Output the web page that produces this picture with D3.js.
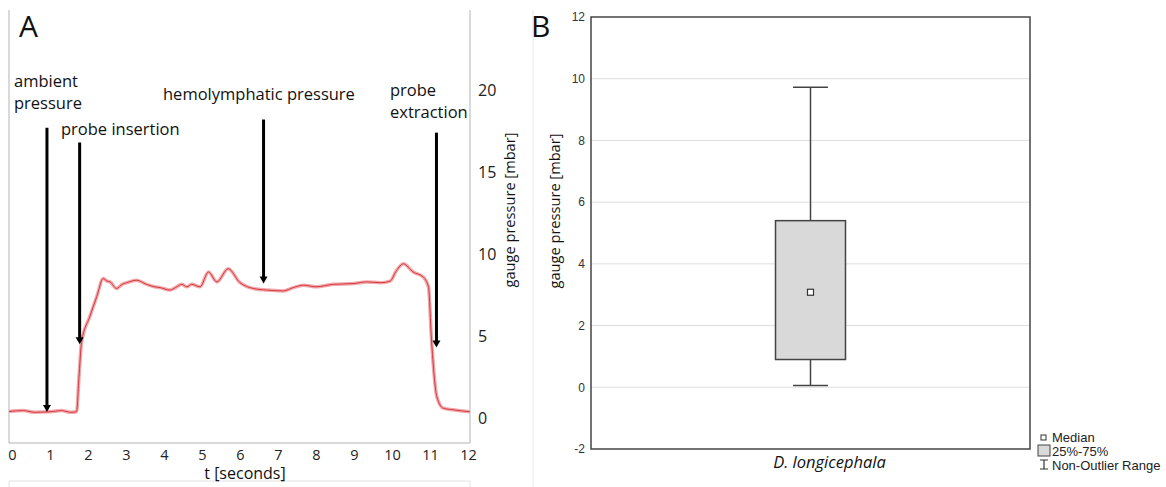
<!DOCTYPE html>
<html>
<head>
<meta charset="utf-8">
<script src="https://cdn.jsdelivr.net/npm/d3@7"></script>
<style>
  body { margin: 0; background: #fff; }
  svg { display: block; }
  .serif-ish { font-family: "Open Sans", "Noto Sans", sans-serif; }
</style>
</head>
<body>
<div id="canvas"></div>
<script>
// ---- panel A: pressure trace ----
var traceTime = [-0.08, 0.3, 0.6, 1.0, 1.3, 1.55, 1.70, 1.76, 1.83, 2.05, 2.23, 2.4, 2.5, 2.58, 2.75, 2.9, 3.02, 3.28, 3.54, 3.75, 3.9, 4.16, 4.3, 4.47, 4.6, 4.73, 4.95, 5.17, 5.39, 5.69, 6.0, 6.2, 6.35, 6.7, 7.14, 7.4, 7.67, 8.0, 8.46, 9.0, 9.33, 9.7, 9.95, 10.12, 10.3, 10.56, 10.82, 10.96, 11.04, 11.18, 11.35, 11.61, 12.05];
var tracePressure = [0.4, 0.45, 0.35, 0.38, 0.45, 0.35, 0.38, 2.4, 4.6, 6.2, 7.4, 8.5, 8.35, 8.3, 7.9, 8.15, 8.25, 8.4, 8.15, 8.0, 7.95, 7.8, 7.95, 8.15, 8.0, 8.15, 8.0, 8.9, 8.3, 9.1, 8.25, 8.0, 7.9, 7.8, 7.75, 7.95, 8.1, 8.0, 8.15, 8.2, 8.3, 8.25, 8.35, 9.0, 9.4, 8.9, 8.6, 8.0, 4.75, 1.3, 0.6, 0.5, 0.38];

var timeTicks = [0, 1, 2, 3, 4, 5, 6, 7, 8, 9, 10, 11, 12];
var pressureTicksA = [0, 5, 10, 15, 20];

// arrows: time, top value, tip value, label lines
var arrowTime = [0.92, 1.78, 6.62, 11.17];
var arrowTop = [17.7, 16.8, 18.2, 17.4];
var arrowTip = [0.37, 4.5, 8.2, 4.3];
var arrowLabels = [["ambient", "pressure"], ["probe insertion"], ["hemolymphatic pressure"], ["probe", "extraction"]];

// ---- panel B: box plot ----
var boxCategory = ["D. longicephala"];
var boxMedian = [3.08];
var boxQ1 = [0.9];
var boxQ3 = [5.4];
var boxMin = [0.06];
var boxMax = [9.72];
var pressureTicksB = [-2, 0, 2, 4, 6, 8, 10, 12];
var legendLabels = ["Median", "25%-75%", "Non-Outlier Range"];

var svg = d3.select("#canvas").append("svg").attr("width", 1166).attr("height", 487);

drawPanelA();
drawPanelB();

function drawPanelA() {
  var x = d3.scaleLinear().domain([0, 12]).range([12, 468]);
  var y = d3.scaleLinear().domain([0, 20]).range([418, 90]);
  var g = svg.append("g");

  // frame
  g.append("path")
    .attr("d", "M9,10 V443 H470 V10")
    .attr("fill", "none").attr("stroke", "#b3b3b3").attr("stroke-width", 1);
  g.append("path")
    .attr("d", "M9,487 V481 H470 V487")
    .attr("fill", "none").attr("stroke", "#e2e2e2").attr("stroke-width", 1);

  // trace
  var pts = traceTime.map((t, i) => [t, tracePressure[i]]);
  var line = d3.line().x(d => x(d[0])).y(d => y(d[1])).curve(d3.curveMonotoneX);
  g.append("path").datum(pts).attr("d", line)
    .attr("fill", "none").attr("stroke", "#f0a9ab").attr("stroke-width", 3.5).attr("stroke-linejoin", "round");
  g.append("path").datum(pts).attr("d", line)
    .attr("fill", "none").attr("stroke", "#d8383f").attr("stroke-width", 1);

  // arrows
  arrowTime.forEach((t, i) => {
    var ax = x(t), y0 = y(arrowTop[i]), y1 = y(arrowTip[i]);
    g.append("line").attr("x1", ax).attr("x2", ax).attr("y1", y0).attr("y2", y1 - 6)
      .attr("stroke", "#000").attr("stroke-width", 3);
    g.append("path").attr("d", `M${ax - 4},${y1 - 7} L${ax + 4},${y1 - 7} L${ax},${y1} Z`).attr("fill", "#000");
  });

  // arrow labels (left x, first baseline)
  var labelPos = [[14, 87], [61, 135], [163, 100], [390, 96]];
  arrowLabels.forEach((lines, i) => {
    var t = g.append("text").attr("class", "serif-ish").attr("font-size", 16.5).attr("fill", "#111");
    lines.forEach((s, j) => {
      t.append("tspan").attr("x", labelPos[i][0]).attr("y", labelPos[i][1] + j * 22).text(s);
    });
  });

  // axes
  var xAxis = g.append("g").attr("transform", "translate(0,443)")
    .call(d3.axisBottom(x).tickValues(timeTicks).tickSize(0).tickPadding(7));
  xAxis.select(".domain").remove();
  xAxis.selectAll("text").attr("class", "serif-ish").attr("font-size", 14.5).attr("fill", "#222");

  var yAxis = g.append("g").attr("transform", "translate(470,0)")
    .call(d3.axisRight(y).tickValues(pressureTicksA).tickSize(0).tickPadding(8));
  yAxis.select(".domain").remove();
  yAxis.selectAll("text").attr("class", "serif-ish").attr("font-size", 16).attr("fill", "#222");

  g.append("text").attr("class", "serif-ish").attr("font-size", 16).attr("fill", "#111")
    .attr("text-anchor", "middle").attr("x", 245).attr("y", 479).text("t [seconds]");
  g.append("text").attr("class", "serif-ish").attr("font-size", 14.6).attr("fill", "#111")
    .attr("text-anchor", "middle").attr("transform", "translate(515,210) rotate(-90)").text("gauge pressure [mbar]");

  g.append("text").attr("class", "serif-ish").attr("font-size", 30).attr("fill", "#111")
    .attr("x", 19).attr("y", 37).text("A");
}

function drawPanelB() {
  var left = 591, right = 1030, top = 17, bottom = 449;
  var y = d3.scaleLinear().domain([-2, 12]).range([bottom, top]);
  var x = d3.scaleBand().domain(boxCategory).range([left, right]).padding(0.725);
  var g = svg.append("g");

  // separator
  g.append("line").attr("x1", 533).attr("x2", 533).attr("y1", 10).attr("y2", 487)
    .attr("stroke", "#e8e8e8").attr("stroke-width", 1);

  g.append("text").attr("class", "serif-ish").attr("font-size", 30).attr("fill", "#111")
    .attr("x", 531).attr("y", 37).text("B");

  // grid
  g.selectAll("line.grid").data(pressureTicksB.filter(v => v > -2 && v < 12)).enter()
    .append("line").attr("class", "grid")
    .attr("x1", left).attr("x2", right).attr("y1", d => y(d)).attr("y2", d => y(d))
    .attr("stroke", "#dedede").attr("stroke-width", 1);

  // axis labels
  var yAxis = g.append("g").attr("transform", `translate(${left},0)`)
    .call(d3.axisLeft(y).tickValues(pressureTicksB).tickFormat(d => String(d)).tickSize(0).tickPadding(6));
  yAxis.select(".domain").remove();
  yAxis.selectAll("text").attr("font-family", "Liberation Sans, Arial, sans-serif")
    .attr("font-size", 12).attr("fill", "#333");

  // box plot
  boxCategory.forEach((c, i) => {
    var cx = x(c) + x.bandwidth() / 2;
    var bw = x.bandwidth();
    g.append("line").attr("x1", cx).attr("x2", cx).attr("y1", y(boxMax[i])).attr("y2", y(boxQ3[i]))
      .attr("stroke", "#444").attr("stroke-width", 1.5);
    g.append("line").attr("x1", cx).attr("x2", cx).attr("y1", y(boxQ1[i])).attr("y2", y(boxMin[i]))
      .attr("stroke", "#444").attr("stroke-width", 1.5);
    [boxMax[i], boxMin[i]].forEach(v => {
      g.append("line").attr("x1", cx - bw / 4).attr("x2", cx + bw / 4).attr("y1", y(v)).attr("y2", y(v))
        .attr("stroke", "#444").attr("stroke-width", 1.5);
    });
    g.append("rect").attr("x", x(c)).attr("width", bw)
      .attr("y", y(boxQ3[i])).attr("height", y(boxQ1[i]) - y(boxQ3[i]))
      .attr("fill", "#d9d9d9").attr("stroke", "#444").attr("stroke-width", 1.5);
    g.append("rect").attr("x", cx - 3).attr("y", y(boxMedian[i]) - 3).attr("width", 6).attr("height", 6)
      .attr("fill", "#fff").attr("stroke", "#333").attr("stroke-width", 1.2);
    g.append("text").attr("class", "serif-ish").attr("font-size", 16.5).attr("font-style", "italic")
      .attr("fill", "#111").attr("text-anchor", "middle").attr("x", cx + 19).attr("y", 468).text(c);
  });

  // frame
  g.append("rect").attr("x", left).attr("y", top).attr("width", right - left).attr("height", bottom - top)
    .attr("fill", "none").attr("stroke", "#444").attr("stroke-width", 1.5);

  // y label
  g.append("text").attr("class", "serif-ish").attr("font-size", 14.6).attr("fill", "#111")
    .attr("text-anchor", "middle").attr("transform", "translate(560,211) rotate(-90)").text("gauge pressure [mbar]");

  // legend
  var lg = g.append("g").attr("font-family", "Liberation Sans, Arial, sans-serif").attr("font-size", 13).attr("fill", "#222");
  legendLabels.forEach((s, i) => {
    lg.append("text").attr("x", 1052).attr("y", 442 + i * 14).text(s);
  });
  lg.append("rect").attr("x", 1041).attr("y", 435).attr("width", 5).attr("height", 5)
    .attr("fill", "#fff").attr("stroke", "#333").attr("stroke-width", 1);
  lg.append("rect").attr("x", 1038).attr("y", 445).attr("width", 12).attr("height", 11)
    .attr("fill", "#d9d9d9").attr("stroke", "#444").attr("stroke-width", 1);
  lg.append("path").attr("d", "M1040,460 H1048 M1044,460 V469 M1040,469 H1048")
    .attr("fill", "none").attr("stroke", "#333").attr("stroke-width", 1.2);
}
</script>
</body>
</html>
